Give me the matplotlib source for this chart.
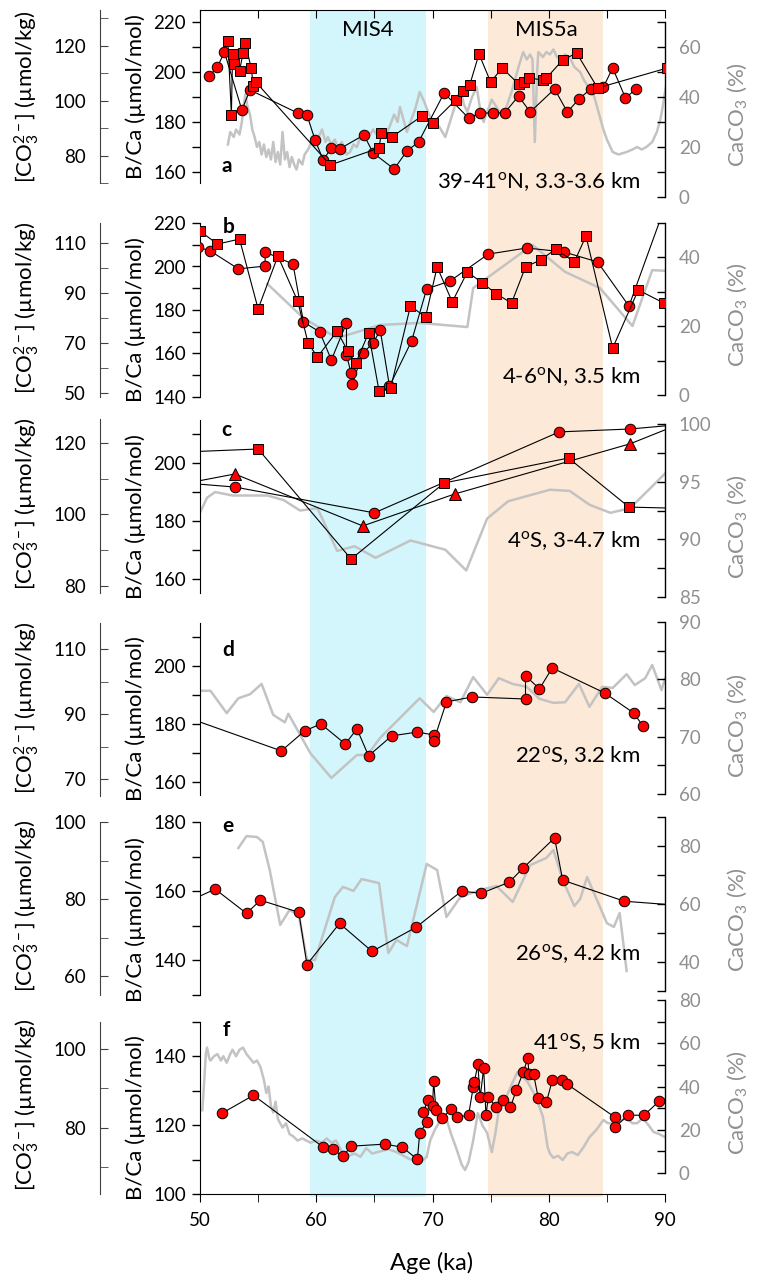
import matplotlib.pyplot as plt
from matplotlib import ticker

plt.rcParams['font.family'] = ['Lato', 'DejaVu Sans']
plt.rcParams['mathtext.fontset'] = 'custom'
plt.rcParams['mathtext.rm'] = 'Lato'
plt.rcParams['mathtext.it'] = 'Lato:italic'
plt.rcParams['mathtext.bf'] = 'Lato:bold'
plt.rcParams['font.size'] = 13.5

# ---------------- data ----------------
mis4 = (59.5, 69.4)
mis5a = (74.8, 84.7)

# panel a : 39-41N
a_circ_age = [50.8, 51.5, 52.1, 53.6, 54.3, 58.4, 59.2, 59.9, 60.6, 61.3, 62.0, 64.1, 64.9, 66.7, 67.8,
              68.8, 71.0, 73.1, 74.1, 75.2, 76.2, 77.4, 78.4, 80.5, 81.6, 82.6, 83.6, 84.7, 85.5, 86.6, 87.5]
a_circ_bca = [198.4, 202, 208, 184.8, 192.8, 183.6, 182.8, 172.8, 164.8, 169.6, 169.2, 174.8, 167.6, 161.2, 168.4,
              172, 191.6, 181.6, 183.6, 183.6, 183.6, 190.4, 184, 193.2, 184, 189.2, 193.2, 194, 201.6, 189.6, 193.2]
a_sq_age = [52.4, 52.7, 52.8, 52.9, 53.4, 53.7, 53.9, 54.4, 54.6, 54.8, 61.2, 65.4, 65.6, 66.5, 69.1, 70.0,
            72.0, 72.6, 73.2, 74.0, 75.0, 76.0, 77.4, 77.9, 78.3, 79.5, 79.8, 81.2, 82.4, 84.2, 90.2]
a_sq_bca = [212.4, 182.8, 207.2, 203.2, 200.4, 207.6, 211.6, 201.6, 194.4, 196, 162.8, 169.6, 175.6, 174, 182.4, 179.6,
            188.8, 192.4, 194.8, 207.2, 196, 201.6, 195.2, 196, 197.6, 196.8, 197.6, 204.8, 207.6, 193.6, 201.6]
a_gray_age = [52.4, 52.6, 52.9, 53.1, 53.4, 53.6, 53.8, 53.9, 54.1, 54.3, 54.5, 54.7, 54.9, 55.1, 55.3, 55.5, 55.7,
              55.9, 56.1, 56.3, 56.5, 56.7, 56.9, 57.1, 57.3, 57.5, 57.7, 57.9, 58.1, 58.3, 58.5, 58.8, 59.0, 59.3,
              59.7, 60.0, 60.3, 60.5, 60.8, 61.0, 61.3, 61.6, 61.9, 62.2, 62.6, 62.9, 63.2, 63.5, 63.8, 64.1, 64.5,
              64.9, 65.2, 65.5, 65.9, 66.3, 66.7, 67.0, 67.2, 67.5, 67.8, 68.1, 68.5, 68.9, 69.3, 69.7, 70.1, 70.6,
              71.1, 71.5, 71.9, 72.4, 72.7, 73.0, 73.4, 73.8, 74.1, 74.4, 74.7, 75.1, 75.5, 75.8, 76.1, 76.5, 76.8,
              77.1, 77.4, 77.8, 78.1, 78.4, 78.6, 78.8, 79.0, 79.1, 79.5, 79.8, 80.1, 80.4, 80.7, 81.0, 81.4, 81.8,
              82.2, 82.7, 83.0, 83.4, 83.8, 84.1, 84.4, 84.7, 85.0, 85.5, 86.0, 86.7, 87.2, 87.6, 88.0, 88.4, 88.9,
              89.3, 89.6, 89.8, 90.0, 90.2]
a_gray_caco3 = [21, 26, 24, 27, 25, 30, 38, 41, 36, 33, 27, 24, 20, 22, 17, 21, 16,
                19, 15, 22, 14, 18, 13, 26, 15, 18, 12, 16, 13, 11, 15, 13, 17, 19,
                23, 21, 25, 27, 22, 24, 21, 23, 19, 22, 17, 18, 21, 20, 24, 26, 24,
                27, 25, 27, 24, 28, 33, 30, 36, 31, 26, 30, 35, 42, 38, 33, 30, 28,
                24, 30, 36, 43, 37, 34, 40, 44, 35, 30, 34, 39, 36, 34, 32, 38, 42,
                47, 52, 58, 55, 57, 55, 22, 50, 58, 56, 58, 57, 59, 56, 55, 57, 56,
                52, 50, 47, 44, 42, 37, 32, 27, 23, 18, 17, 18, 19, 20, 19, 20, 22,
                26, 31, 36, 42, 47]

# panel b : 4-6N
b_circ_age = [49.8, 50.9, 53.3, 55.6, 55.6, 58.0, 58.9, 60.3, 61.3, 62.6, 62.6, 63.0, 63.1, 64.0, 64.9,
              65.5, 66.3, 68.2, 69.5, 71.5, 74.8, 78.1, 81.3, 84.2, 86.9, 90.3]
b_circ_bca = [209, 207.1, 198.9, 200.2, 206.7, 201.1, 174.5, 169.9, 157, 174, 159.3, 151, 146, 160.2, 164.8,
              170.8, 145, 165.7, 189.7, 193.3, 205.7, 208.5, 206.7, 202.1, 181.8, 232]
b_sq_age = [50.0, 51.5, 53.4, 55.0, 56.7, 58.4, 59.3, 60.1, 61.8, 62.7, 63.4, 64.5, 65.4, 66.4, 68.1, 69.4,
            70.4, 71.7, 73.0, 74.3, 75.5, 76.8, 78.0, 79.3, 80.6, 82.2, 83.2, 85.5, 87.7, 89.9]
b_sq_bca = [216.3, 210.3, 212.6, 180.5, 204.8, 184.1, 164.8, 158.4, 170.3, 161.2, 155.6, 169.4, 142.8, 144.1, 181.8, 176.8,
            199.8, 183.7, 197.5, 192.4, 187.4, 183.2, 199.8, 203, 208, 202.1, 214, 162.5, 189.2, 183.2]
b_gray_age = [55.8, 58.9, 61.8, 65.5, 68.9, 73.0, 73.5, 78.6, 81.4, 84.4, 87.2, 88.9, 90.0]
b_gray_caco3 = [32.2, 22.3, 16.5, 20.3, 20.9, 19.7, 31, 43.5, 35.7, 31, 20, 36.2, 36]

# panel c : 4S
c_circ_age = [47.5, 53.0, 65.0, 80.9, 87.0, 92.0]
c_circ_bca = [193.5, 191.7, 182.8, 210.7, 211.7, 213.5]
c_tri_age = [47.5, 53.0, 64.0, 71.9, 87.0, 92.0]
c_tri_bca = [192.0, 196.2, 178.3, 189.3, 206.6, 214.6]
c_sq_age = [47.5, 55.0, 63.0, 71.0, 81.7, 86.9, 92.0]
c_sq_bca = [203.6, 204.8, 166.9, 193.1, 201.7, 184.8, 184.3]
c_gray_age = [50.0, 50.6, 51.3, 52.8, 55.8, 57.2, 58.6, 60.1, 61.8, 63.3, 65.1, 68.1, 71.1, 72.9, 74.7,
              76.5, 80.1, 81.8, 83.5, 85.3, 87.0, 90.0]
c_gray_caco3 = [92.3, 93.6, 94.1, 93.8, 93.8, 93.4, 92.5, 92.7, 89.0, 89.4, 88.4, 89.9, 89.1, 87.3, 91.8,
                93.3, 94.3, 94.2, 93.0, 92.3, 92.7, 95.7]

# panel d : 22S
d_age = [48.0, 57.0, 59.0, 60.4, 62.5, 63.5, 64.5, 66.5, 68.7, 70.1, 70.1, 71.2, 73.4, 78.0, 78.0, 79.2,
         80.3, 84.8, 87.3, 88.1]
d_bca = [183.5, 170.7, 177.6, 180, 173.1, 178.3, 169, 175.9, 177.2, 176.2, 174.1, 187.6, 189.3, 188.6, 196.6, 192.1,
         199.3, 190.7, 183.8, 179.3]
d_gray_age = [50.0, 50.9, 52.3, 53.3, 54.3, 55.3, 56.3, 57.3, 57.6, 59.5, 61.3, 63.5, 64.4, 65.5, 68.9, 70.1,
              71.2, 72.4, 73.5, 74.7, 75.7, 76.9, 78.1, 79.2, 80.4, 81.4, 82.6, 83.5, 84.6, 85.5, 86.7, 87.4,
              88.3, 88.9, 89.7, 90.0]
d_gray_caco3 = [78, 78, 74.1, 76.7, 77.4, 79.2, 73.8, 72.5, 74.0, 67.1, 62.8, 66.8, 66.8, 69.8, 76.7, 74.3,
                77.1, 76, 80.4, 77.3, 80.2, 79.2, 78.7, 76.6, 75.9, 76, 79.2, 75.2, 78.7, 78.5, 80.9, 79,
                80.2, 82.5, 78.1, 80.2]

# panel e : 26S
e_age = [48.0, 51.3, 54.0, 55.2, 58.5, 59.2, 62.0, 64.8, 68.6, 72.5, 74.2, 76.6, 77.8, 80.5, 81.2, 86.5, 92.0]
e_bca = [155.5, 160.6, 153.6, 157.4, 153.9, 138.8, 150.7, 142.6, 149.6, 160, 159.4, 162.6, 166.7, 175.4, 163.2,
         157.1, 155.7]
e_gray_age = [53.3, 54.0, 54.9, 55.4, 56.0, 56.9, 57.7, 58.5, 59.2, 59.9, 61.6, 62.3, 63.2, 63.9, 65.4, 66.2,
              66.9, 67.8, 69.5, 70.4, 71.2, 72.4, 74.1, 75.5, 76.9, 78.4, 79.8, 80.4, 81.2, 82.2, 82.7, 83.3,
              85.0, 85.6, 86.1, 86.7]
e_gray_caco3 = [79.3, 83.4, 83.1, 81.4, 71.7, 52.8, 57.9, 56.2, 40.7, 40.7, 62.4, 65.9, 64.5, 68.6, 67.2, 43.1,
                47.6, 45.5, 73.8, 71.7, 55.5, 62.4, 64.8, 66.2, 60.7, 73.4, 75.9, 78.6, 68.3, 59.3, 61.7, 69.3,
                53.4, 52.1, 56.9, 36.9]

# panel f : 41S
f_age = [51.9, 54.6, 60.6, 61.4, 62.3, 63.0, 65.9, 67.4, 68.7, 68.9, 69.5, 69.2, 69.6, 70.0, 70.1, 70.3,
         70.8, 71.6, 72.1, 73.1, 73.5, 73.6, 73.9, 74.1, 74.4, 74.6, 74.8, 75.5, 76.1, 76.7, 77.2, 77.8,
         78.2, 78.3, 78.7, 79.1, 79.8, 80.3, 81.1, 81.6, 85.7, 85.7, 86.8, 88.2, 89.5, 91.0]
f_bca = [123.5, 128.7, 113.6, 113.0, 111, 113.9, 114.5, 113.6, 110.1, 117.7, 120.9, 123.8, 127.2, 125.5, 132.8, 124.3,
         122, 124.6, 122.3, 122.9, 131, 132.5, 137.7, 128.1, 136.5, 122.9, 128.1, 125.2, 127.2, 125.2, 130.1, 135.4,
         139.4, 134.8, 134.8, 127.8, 126.7, 133, 133, 131.9, 122.3, 119.4, 122.9, 122.9, 127, 129]
f_gray_age = [50.2, 50.3, 50.5, 50.6, 50.8, 50.9, 51.2, 51.5, 51.8, 52.0, 52.3, 52.6, 52.8, 53.1, 53.4, 53.7,
              54.0, 54.3, 54.6, 54.9, 55.2, 55.5, 55.7, 55.9, 56.1, 56.3, 56.5, 56.7, 57.1, 57.4, 57.7, 58.0,
              58.4, 58.8, 59.5, 60.0, 60.5, 60.9, 61.3, 61.7, 62.3, 62.8, 63.3, 63.8, 64.3, 64.8, 65.5, 66.2,
              66.9, 67.5, 68.0, 68.3, 68.8, 69.2, 69.5, 69.8, 70.2, 70.6, 71.2, 71.6, 72.1, 72.5, 72.8, 73.1,
              73.5, 73.9, 74.3, 74.7, 75.1, 75.4, 75.7, 76.1, 76.5, 76.9, 77.3, 77.8, 78.2, 78.7, 79.1, 79.5,
              79.9, 80.1, 80.4, 80.8, 81.2, 81.6, 82.0, 82.5, 83.0, 83.5, 84.1, 84.7, 85.1, 85.5, 86.1, 86.7,
              87.2, 87.6, 88.1, 88.6, 89.0, 89.5, 90.0]
f_gray_caco3 = [29, 37, 55, 58, 53, 52, 54, 55, 52, 54, 51, 55, 57, 54, 57, 58,
                55, 53, 51, 52, 49, 43, 37, 40, 31, 28, 33, 25, 21, 23, 18, 17,
                15, 16, 14, 15, 14, 16, 14, 15, 9, 8, 9, 7.5, 11.5, 9, 10, 11,
                9.7, 8, 6.5, 6, 7, 6, 7.4, 15, 20, 23.6, 25, 18, 10.6, 4, 1.4, 5,
                15, 27.7, 22, 18.5, 9.7, 18, 29, 32, 37, 42, 46.6, 44.3, 42, 37, 32, 26,
                12, 9, 7, 8, 6, 9, 9.7, 8.3, 12, 16.6, 20, 24.5, 23, 23, 24, 25.4,
                23, 23, 25.4, 22, 19, 18, 16.6]

site_labels = ['39-41$^{\\rm o}$N, 3.3-3.6 km', '4-6$^{\\rm o}$N, 3.5 km', '4$^{\\rm o}$S, 3-4.7 km',
               '22$^{\\rm o}$S, 3.2 km', '26$^{\\rm o}$S, 4.2 km', '41$^{\\rm o}$S, 5 km']
letters = ['a', 'b', 'c', 'd', 'e', 'f']

# ---------------- layout helpers (pixel based) ----------------
W, H = 761, 1281
GREY_LINE = '#c3c3c3'
GREY_TXT = '#8f8f8f'
LABEL_FS = 16

fig = plt.figure(figsize=(W / 100, H / 100), dpi=100)


def box(top, bottom, left=200, right=665):
    return [left / W, 1 - bottom / H, (right - left) / W, (bottom - top) / H]


def hide(ax, keep):
    for s in ['left', 'right', 'top', 'bottom']:
        ax.spines[s].set_visible(s in keep)


def right_axis(top, bottom, lim, major, minor, age, caco3, label_y):
    ax = fig.add_axes(box(top, bottom))
    ax.patch.set_visible(False)
    ax.plot(age, caco3, color=GREY_LINE, lw=1.8, zorder=1)
    ax.set_xlim(50, 90)
    ax.set_ylim(*lim)
    hide(ax, ['right'])
    ax.set_xticks([])
    ax.yaxis.tick_right()
    ax.yaxis.set_major_locator(ticker.MultipleLocator(major))
    ax.yaxis.set_minor_locator(ticker.MultipleLocator(minor))
    ax.tick_params(axis='y', which='both', direction='in', length=6, width=1, labelcolor=GREY_TXT, pad=10)
    ax.spines['right'].set_linewidth(1)
    fig.text(737 / W, 1 - label_y / H, 'CaCO$_3$ (%)', rotation=90, color=GREY_TXT,
             ha='center', va='center', fontsize=LABEL_FS)
    return ax


def co3_axis(top, bottom, lim, major, minor, label_y):
    ax = fig.add_axes(box(top, bottom, 100, 110))
    ax.patch.set_visible(False)
    ax.set_ylim(*lim)
    hide(ax, ['left'])
    ax.spines['left'].set_color('#404040')
    ax.set_xticks([])
    ax.set_yticks(major)
    ax.set_yticks(minor, minor=True)
    ax.tick_params(axis='y', which='both', direction='in', length=6, color='#404040', pad=10)
    fig.text(27 / W, 1 - label_y / H, '[CO$_3^{2-}$] (µmol/kg)', rotation=90,
             ha='center', va='center', fontsize=LABEL_FS)
    return ax


def main_axis(top, bottom, lim, major, label_y):
    ax = fig.add_axes(box(top, bottom))
    ax.patch.set_visible(False)
    ax.set_xlim(50, 90)
    ax.set_ylim(*lim)
    hide(ax, ['left'])
    ax.set_xticks([])
    ax.yaxis.set_major_locator(ticker.MultipleLocator(major))
    ax.yaxis.set_minor_locator(ticker.MultipleLocator(major / 2))
    ax.tick_params(axis='y', which='both', direction='out', length=6, width=1, pad=4)
    fig.text(136 / W, 1 - label_y / H, 'B/Ca (µmol/mol)', rotation=90,
             ha='center', va='center', fontsize=LABEL_FS)
    return ax


def red(ax, age, val, marker='o', ms=7.6):
    ax.plot(age, val, color='black', lw=0.8, marker=marker, ms=ms,
            mfc='#ff0000', mec='black', mew=0.7, zorder=3)


# background bands
bg = fig.add_axes(box(10, 1197))
bg.set_xlim(50, 90)
bg.axvspan(*mis4, color='#d2f6fc', lw=0)
bg.axvspan(*mis5a, color='#fde9d8', lw=0)
bg.axis('off')
fig.text(368 / W, 1 - 30 / H, 'MIS4', ha='center', va='center', fontsize=16)
fig.text(546 / W, 1 - 30 / H, 'MIS5a', ha='center', va='center', fontsize=16)

# ---- panel a
right_axis(22, 197, (0, 70), 20, 10, a_gray_age, a_gray_caco3, 115)
co3_axis(10, 183, (70.2, 133.1), [80, 100, 120], [70, 90, 110, 130], 97)
ax = main_axis(10, 183, (155.6, 224.8), 20, 97)
red(ax, a_circ_age, a_circ_bca, 'o')
red(ax, a_sq_age, a_sq_bca, 's', 6.8)
ax.spines['top'].set_visible(True)
ax.xaxis.tick_top()
ax.set_xticks(range(50, 91, 5))
ax.tick_params(axis='x', direction='in', length=6, labeltop=False)

# ---- panel b
right_axis(222.5, 395, (0, 50), 20, 10, b_gray_age, b_gray_caco3, 315)
co3_axis(223, 397, (48.4, 118), [50, 70, 90, 110], [60, 80, 100], 308)
ax = main_axis(223, 397, (140, 220), 20, 320)
red(ax, b_circ_age, b_circ_bca, 'o')
red(ax, b_sq_age, b_sq_bca, 's', 6.8)

# ---- panel c
right_axis(424, 597, (85, 100), 5, 2.5, c_gray_age, c_gray_caco3, 527)
co3_axis(419, 593, (78, 126.7), [80, 100, 120], [90, 110], 504)
ax = main_axis(420, 593, (155.2, 214.8), 20, 517)
red(ax, c_circ_age, c_circ_bca, 'o')
red(ax, c_tri_age, c_tri_bca, '^', 8.5)
red(ax, c_sq_age, c_sq_bca, 's', 6.8)

# ---- panel d
right_axis(622, 794, (60, 90), 10, 5, d_gray_age, d_gray_caco3, 726)
co3_axis(623, 796, (64.8, 118), [70, 90, 110], [80, 100], 708)
ax = main_axis(623, 795, (155.5, 214.8), 20, 719)
red(ax, d_age, d_bca, 'o')

# ---- panel e
right_axis(817, 991, (30, 90), 20, 10, e_gray_age, e_gray_caco3, 920)
co3_axis(822, 995, (55.1, 100), [60, 80, 100], [70, 90], 906)
ax = main_axis(822, 995, (130, 180), 20, 920)
red(ax, e_age, e_bca, 'o')

# ---- panel f
right_axis(1000, 1173, (0, 80), 20, 10, f_gray_age, f_gray_caco3, 1103)
co3_axis(1022, 1194, (63.2, 106.8), [80, 100], [70, 90], 1105)
ax = main_axis(1022, 1194, (100, 150), 20, 1118)
red(ax, f_age, f_bca, 'o')
ax.spines['bottom'].set_visible(True)
ax.set_xticks([50, 60, 70, 80, 90])
ax.set_xticks(range(55, 90, 10), minor=True)
ax.tick_params(axis='x', which='both', direction='out', length=6, pad=7)
fig.text(432 / W, 1 - 1263 / H, 'Age (ka)', ha='center', va='center', fontsize=17)

# panel letters and site names
letter_xy = [(227, 166), (229, 227), (226, 430), (228, 650), (228, 826), (226, 1030)]
site_y = [182, 377, 541, 756, 954, 1043]
for k in range(6):
    fig.text(letter_xy[k][0] / W, 1 - letter_xy[k][1] / H, letters[k], fontweight='bold',
             ha='center', va='center', fontsize=15)
    fig.text(640 / W, 1 - site_y[k] / H, site_labels[k], ha='right', va='center', fontsize=16)

plt.savefig('out.png', dpi=100)
